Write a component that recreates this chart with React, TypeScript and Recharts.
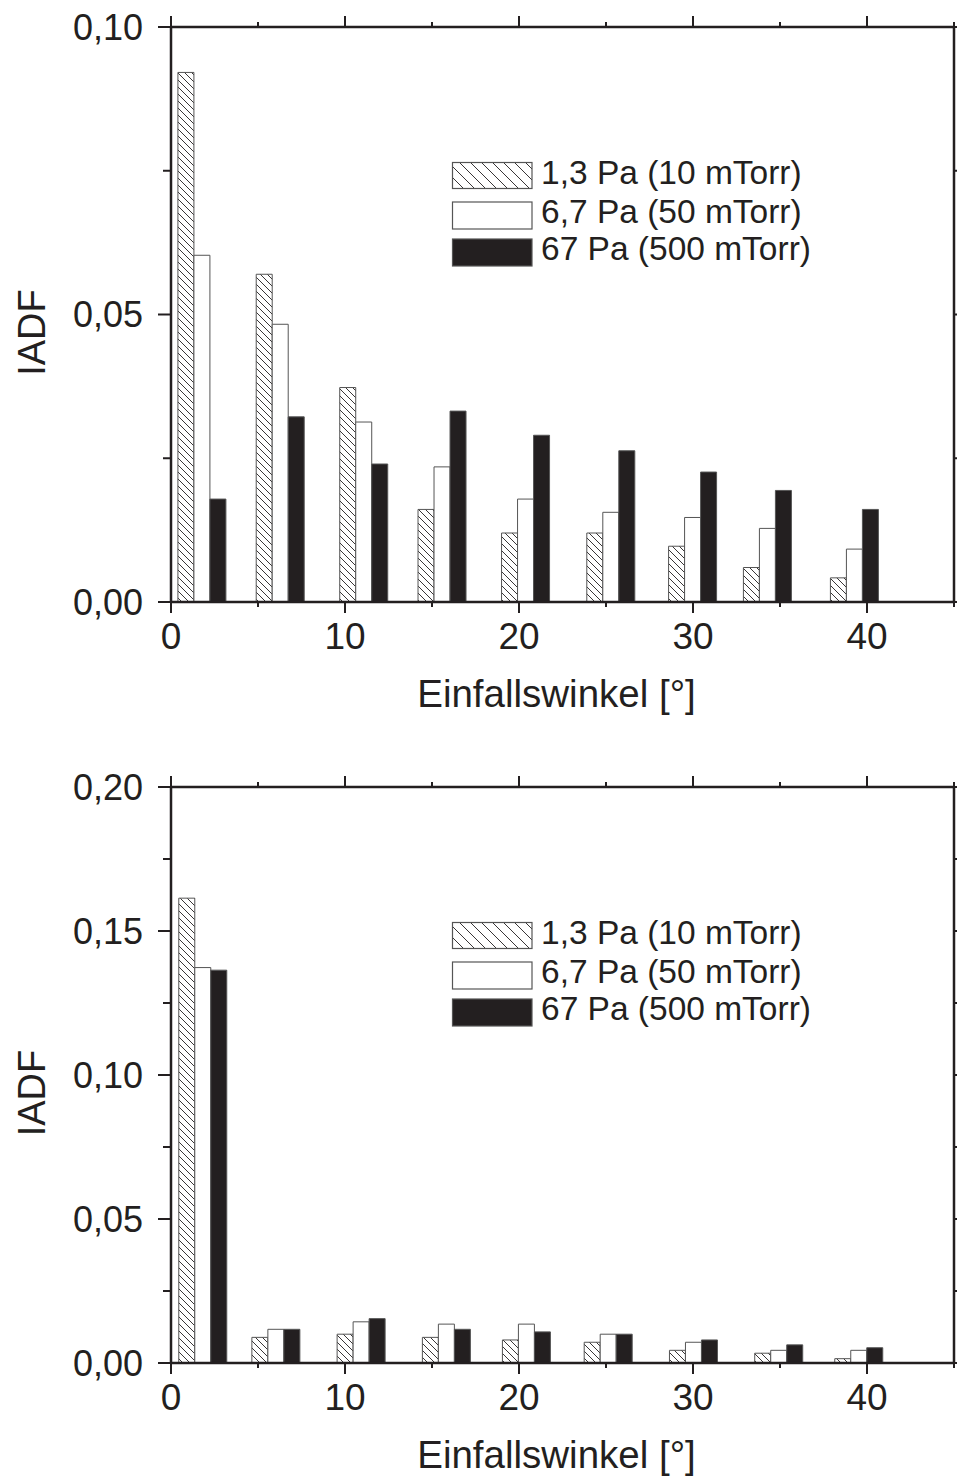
import React from 'react';
import { BarChart, Bar, XAxis, YAxis, Label } from 'recharts';

const seriesNames = ['1,3 Pa (10 mTorr)', '6,7 Pa (50 mTorr)', '67 Pa (500 mTorr)'];

const topAngles = [1.8, 6.3, 11.1, 15.6, 20.4, 25.3, 30.0, 34.3, 39.3];
const top10 = [0.0921, 0.057, 0.0373, 0.0161, 0.012, 0.012, 0.0097, 0.006, 0.0042];
const top50 = [0.0603, 0.0483, 0.0313, 0.0235, 0.0179, 0.0156, 0.0147, 0.0128, 0.0092];
const top500 = [0.0179, 0.0322, 0.024, 0.0332, 0.029, 0.0263, 0.0226, 0.0194, 0.0161];

const bottomAngles = [1.8, 6.0, 10.9, 15.8, 20.4, 25.1, 30.0, 34.9, 39.5];
const bottom10 = [0.1614, 0.0089, 0.01, 0.0089, 0.008, 0.0072, 0.0044, 0.0034, 0.0015];
const bottom50 = [0.1373, 0.0117, 0.0143, 0.0135, 0.0135, 0.01, 0.0072, 0.0044, 0.0044];
const bottom500 = [0.1364, 0.0117, 0.0154, 0.0117, 0.0108, 0.01, 0.008, 0.0063, 0.0053];

const xTicks = [0, 5, 10, 15, 20, 25, 30, 35, 40, 45];
const topYTicks = [0, 0.025, 0.05, 0.075, 0.1];
const bottomYTicks = [0, 0.025, 0.05, 0.075, 0.1, 0.125, 0.15, 0.175, 0.2];

const xTitle = 'Einfallswinkel [°]';
const yTitle = 'IADF';

const INK = '#231f20';
const EDGE = '#555555';
const FONT = '"Liberation Sans", Arial, Helvetica, sans-serif';

const buildRows = (angles: number[], a: number[], b: number[], c: number[]) =>
  angles.map((angle, i) => ({ angle, p10: a[i], p50: b[i], p500: c[i] }));

const topData = buildRows(topAngles, top10, top50, top500);
const bottomData = buildRows(bottomAngles, bottom10, bottom50, bottom500);

const isMult = (v: number, step: number) => Math.abs(v / step - Math.round(v / step)) < 1e-6;
const fmtY = (v: number) => v.toFixed(2).replace('.', ',');

const LeftTick = (props: any) => {
  const { x, y, payload } = props;
  const v = payload.value;
  const major = isMult(v, 0.05);
  return (
    <g>
      <line x1={x} y1={y} x2={x - (major ? 13 : 8)} y2={y} stroke={INK} strokeWidth={2} />
      {major && (
        <text x={x - 28} y={y} dy={12.5} textAnchor="end" fontSize={36} fill={INK} fontFamily={FONT}>
          {fmtY(v)}
        </text>
      )}
    </g>
  );
};

const RightTick = (props: any) => {
  const { x, y, payload } = props;
  const major = isMult(payload.value, 0.05);
  return <line x1={x} y1={y} x2={x + (major ? 13 : 8)} y2={y} stroke={INK} strokeWidth={2} />;
};

const BottomTick = (props: any) => {
  const { x, y, payload } = props;
  const v = payload.value;
  const major = isMult(v, 10);
  return (
    <g>
      <line x1={x} y1={y} x2={x} y2={y + (major ? 11 : 5)} stroke={INK} strokeWidth={2} />
      {major && (
        <text x={x} y={y + 47} textAnchor="middle" fontSize={37} fill={INK} fontFamily={FONT}>
          {String(v)}
        </text>
      )}
    </g>
  );
};

const TopTick = (props: any) => {
  const { x, y, payload } = props;
  const major = isMult(payload.value, 10);
  return <line x1={x} y1={y} x2={x} y2={y - (major ? 11 : 5)} stroke={INK} strokeWidth={2} />;
};

const XTitle = (props: any) => {
  const vb = props.viewBox || {};
  return (
    <text x={vb.x + vb.width / 2 - 6} y={vb.y + 104.5} textAnchor="middle" fontSize={38.5} fill={INK} fontFamily={FONT}>
      {xTitle}
    </text>
  );
};

const YTitle = (props: any) => {
  const vb = props.viewBox || {};
  const cx = 45;
  const cy = vb.y + vb.height / 2 + 18;
  return (
    <text x={cx} y={cy} transform={`rotate(-90 ${cx} ${cy})`} textAnchor="middle" fontSize={38} fill={INK} fontFamily={FONT}>
      {yTitle}
    </text>
  );
};

const axisLine = { stroke: INK, strokeWidth: 2.5 };

function Panel({ data, yMax, yTicks, height, xAxisHeight }: any) {
  return (
    <BarChart
      width={957}
      height={height}
      data={data}
      margin={{ top: 26, right: 2, left: 0, bottom: 0 }}
      barGap={0}
      barSize={16}
    >
      <XAxis
        dataKey="angle"
        type="number"
        domain={[0, 45]}
        ticks={xTicks}
        interval={0}
        height={xAxisHeight}
        tickSize={0}
        tickMargin={0}
        tickLine={false}
        axisLine={axisLine}
        tick={<BottomTick />}
        allowDataOverflow
      >
        <Label content={<XTitle />} />
      </XAxis>
      <XAxis
        xAxisId="top"
        orientation="top"
        dataKey="angle"
        type="number"
        domain={[0, 45]}
        ticks={xTicks}
        interval={0}
        height={1}
        tickSize={0}
        tickMargin={0}
        tickLine={false}
        axisLine={axisLine}
        tick={<TopTick />}
        allowDataOverflow
      />
      <YAxis
        type="number"
        domain={[0, yMax]}
        ticks={yTicks}
        interval={0}
        width={171}
        tickSize={0}
        tickMargin={0}
        tickLine={false}
        axisLine={axisLine}
        tick={<LeftTick />}
        allowDataOverflow
      >
        <Label content={<YTitle />} />
      </YAxis>
      <YAxis
        yAxisId="right"
        orientation="right"
        type="number"
        domain={[0, yMax]}
        ticks={yTicks}
        interval={0}
        width={1}
        tickSize={0}
        tickMargin={0}
        tickLine={false}
        axisLine={axisLine}
        tick={<RightTick />}
        allowDataOverflow
      />
      <Bar dataKey="p10" name={seriesNames[0]} fill="url(#hatchBar)" stroke={EDGE} strokeWidth={1} isAnimationActive={false} />
      <Bar dataKey="p50" name={seriesNames[1]} fill="#ffffff" stroke={EDGE} strokeWidth={1} isAnimationActive={false} />
      <Bar dataKey="p500" name={seriesNames[2]} fill={INK} stroke={EDGE} strokeWidth={1} isAnimationActive={false} />
    </BarChart>
  );
}

function LegendOverlay({ top }: { top: number }) {
  const fills = ['url(#hatchLegend)', '#ffffff', INK];
  const boxY = [162.5, 202, 239];
  const boxH = [26, 27, 27];
  const baseY = [183.5, 222.5, 260];
  return (
    <svg
      width={420}
      height={130}
      style={{ position: 'absolute', left: 440, top: top + 150, overflow: 'visible' }}
    >
      <g transform="translate(-440,-150)">
        {seriesNames.map((name, i) => (
          <g key={name}>
            <rect x={452.5} y={boxY[i]} width={79.5} height={boxH[i]} fill={fills[i]} stroke={EDGE} strokeWidth={1.2} />
            <text x={541} y={baseY[i]} fontSize={33.5} fill={INK} fontFamily={FONT}>
              {name}
            </text>
          </g>
        ))}
      </g>
    </svg>
  );
}

export default function App() {
  return (
    <div style={{ position: 'absolute', left: 0, top: 0, width: 957, height: 1476, background: '#ffffff' }}>
      <svg width={0} height={0} style={{ position: 'absolute' }}>
        <defs>
          <pattern id="hatchBar" patternUnits="userSpaceOnUse" width={7} height={7}>
            <rect x={0} y={0} width={7} height={7} fill="#ffffff" />
            <path d="M-1,-1 L8,8 M-1,6 L1,8 M6,-1 L8,1" stroke={INK} strokeWidth={0.9} />
          </pattern>
          <pattern id="hatchLegend" patternUnits="userSpaceOnUse" width={11} height={11}>
            <rect x={0} y={0} width={11} height={11} fill="#ffffff" />
            <path d="M-1,-1 L12,12 M-1,10 L1,12 M10,-1 L12,1" stroke={INK} strokeWidth={0.9} />
          </pattern>
        </defs>
      </svg>
      <div style={{ position: 'absolute', left: 0, top: 0 }}>
        <Panel data={topData} yMax={0.1} yTicks={topYTicks} height={740} xAxisHeight={138} />
      </div>
      <div style={{ position: 'absolute', left: 0, top: 760 }}>
        <Panel data={bottomData} yMax={0.2} yTicks={bottomYTicks} height={716} xAxisHeight={113} />
      </div>
      <LegendOverlay top={0} />
      <LegendOverlay top={760} />
    </div>
  );
}
